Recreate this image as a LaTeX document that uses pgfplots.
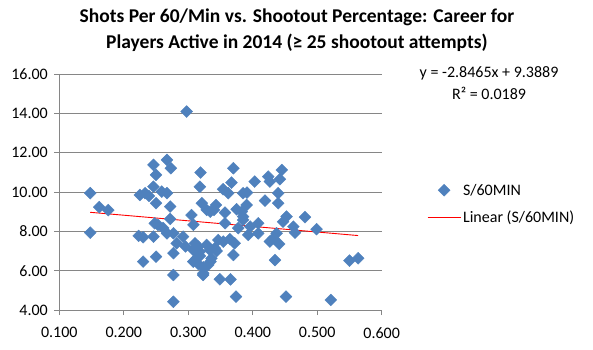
\documentclass[border=0pt]{standalone}
\usepackage{fontspec}
\setmainfont{Carlito}
\usepackage{pgfplots}
\pgfplotsset{compat=1.18}
\definecolor{excelblue}{HTML}{4F81BD}
\definecolor{gridgray}{HTML}{868686}
\newcommand{\bodyfont}{\fontsize{16}{19}\selectfont}
\pgfplotsset{
  scatterlegend/.style={legend image code/.code={\draw[##1] plot coordinates {(16.5pt,0pt)};}},
  linelegend/.style={legend image code/.code={\draw[##1] (0pt,0pt) -- (33pt,0pt);}},
}
\begin{document}
\begin{tikzpicture}
\path[use as bounding box] (-59.3pt,-39pt) rectangle (533.7pt,310pt);
\begin{axis}[
  at={(0,0)}, anchor=south west,
  scale only axis, width=322.4pt, height=236pt,
  xmin=0.1, xmax=0.6, ymin=4, ymax=16,
  xtick={0.1,0.2,0.3,0.4,0.5,0.6}, ytick={4,6,8,10,12,14,16},
  scaled ticks=false,
  axis x line*=bottom, axis y line*=left,
  axis line style={gridgray, line width=0.8pt, -},
  tick style={gridgray, line width=0.8pt},
  tick align=outside, major tick length=5pt,
  ymajorgrids, grid style={gridgray, line width=0.8pt},
  xticklabel style={yshift=-9pt, /pgf/number format/.cd, fixed, fixed zerofill, precision=3},
  yticklabel style={xshift=-3pt, /pgf/number format/.cd, fixed, fixed zerofill, precision=2},
  /pgf/number format/assume math mode=true,
  ticklabel style={font=\bodyfont},
  clip=false,
  legend style={at={(1.1405,0.45)}, anchor=west, draw=none, fill=none,
    inner sep=0pt, font=\bodyfont, row sep=10pt,
    cells={anchor=west}},
]
\addplot[only marks, mark=square*, mark size=4.2pt,
  mark options={rotate=45, fill=excelblue, draw=excelblue}, scatterlegend]
  table[row sep=\\] {
x y\\
0.148 9.94\\
0.162 9.23\\
0.176 9.08\\
0.148 7.93\\
0.225 9.85\\
0.233 9.94\\
0.239 9.80\\
0.246 10.27\\
0.250 9.43\\
0.259 10.02\\
0.267 9.94\\
0.272 9.26\\
0.248 8.41\\
0.253 8.33\\
0.261 8.17\\
0.272 8.63\\
0.267 7.90\\
0.277 7.90\\
0.223 7.77\\
0.230 7.70\\
0.246 7.73\\
0.282 7.39\\
0.292 7.73\\
0.277 6.89\\
0.230 6.46\\
0.250 6.71\\
0.277 5.78\\
0.277 4.42\\
0.2975 14.09\\
0.246 11.38\\
0.250 10.87\\
0.267 11.63\\
0.273 11.21\\
0.319 10.99\\
0.318 10.27\\
0.305 8.83\\
0.321 9.43\\
0.3285 9.09\\
0.334 9.00\\
0.370 11.21\\
0.367 10.48\\
0.354 10.14\\
0.362 9.94\\
0.385 9.94\\
0.391 9.97\\
0.403 10.53\\
0.424 10.78\\
0.4265 10.53\\
0.442 10.65\\
0.445 11.12\\
0.4395 9.94\\
0.419 9.56\\
0.4395 9.43\\
0.340 9.09\\
0.343 9.34\\
0.357 8.95\\
0.375 9.12\\
0.3905 9.34\\
0.383 9.00\\
0.385 8.75\\
0.4525 8.75\\
0.447 8.49\\
0.4085 8.41\\
0.357 8.41\\
0.385 8.58\\
0.3775 8.16\\
0.308 8.33\\
0.396 8.24\\
0.4085 7.90\\
0.393 7.82\\
0.463 8.24\\
0.4655 7.93\\
0.481 8.72\\
0.499 8.11\\
0.437 7.90\\
0.432 7.65\\
0.4265 7.48\\
0.441 7.36\\
0.3104 7.39\\
0.3078 7.05\\
0.3155 7.22\\
0.318 6.97\\
0.3414 7.14\\
0.3337 7.05\\
0.3285 7.31\\
0.3465 7.56\\
0.3543 7.48\\
0.3647 7.60\\
0.372 7.39\\
0.370 6.80\\
0.3078 6.46\\
0.3155 6.34\\
0.3233 6.17\\
0.331 6.29\\
0.3345 6.46\\
0.323 5.78\\
0.349 5.56\\
0.3655 5.56\\
0.374 4.68\\
0.4345 6.54\\
0.4515 4.68\\
0.521 4.51\\
0.550 6.51\\
0.5635 6.63\\
0.2957 7.23\\
0.318 6.75\\
0.313 6.63\\
0.3233 5.87\\
0.336 6.63\\
0.344 7.00\\
};
\addlegendentry{S/60MIN}
\addplot[red, line width=0.9pt, linelegend]
  coordinates {(0.148,8.968) (0.5635,7.785)};
\addlegendentry{Linear (S/60MIN)}
\node[font=\bodyfont] at (rel axis cs:1.333,1.003) {y = -2.8465x + 9.3889};
\node[font=\bodyfont] at (rel axis cs:1.333,0.918) {R² = 0.0189};
\node[font=\bfseries\fontsize{19.5}{24}\selectfont] at (rel axis cs:0.737,1.2415) {Shots Per 60/Min vs. Shootout Percentage: Career for};
\node[font=\bfseries\fontsize{19.5}{24}\selectfont] at (rel axis cs:0.737,1.131) {Players Active in 2014 (≥ 25 shootout attempts)};
\end{axis}
\end{tikzpicture}
\end{document}
